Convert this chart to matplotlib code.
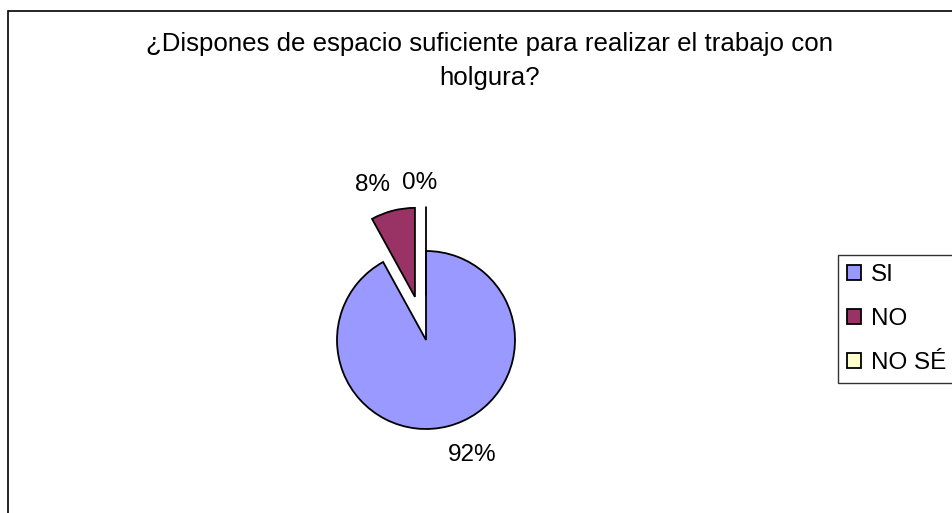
import matplotlib
matplotlib.use("Agg")
import matplotlib.pyplot as plt
from matplotlib.patches import Rectangle

plt.rcParams["font.family"] = ["Liberation Sans", "DejaVu Sans"]

# survey answers
categories = ["SI", "NO", "NO SÉ"]
values = [92, 8, 0]
colors = ["#9999FF", "#993366", "#FFFFCC"]
title = "¿Dispones de espacio suficiente para realizar el trabajo con\nholgura?"

W, H = 953, 513
fig = plt.figure(figsize=(W / 100, H / 100), dpi=100)

# outer chart border (right and bottom run off the picture)
fig.patches.append(Rectangle((8 / W, -0.05), 1.1, 1 - 11 / H + 0.05,
                             transform=fig.transFigure, fill=False,
                             edgecolor="black", linewidth=1.2))

fig.text(490 / W, 1 - 61 / H, title, ha="center", va="center",
         fontsize=18.6, linespacing=1.5)

# pie: centre at (426, 340) px, radius 89 px
r_px = 89
lim = 2.0
size = 2 * lim * r_px
cx, cy = 426, 340
ax = fig.add_axes([(cx - size / 2) / W, (H - cy - size / 2) / H, size / W, size / H])
wedges, texts, autotexts = ax.pie(
    values,
    colors=colors,
    startangle=90,
    counterclock=False,
    explode=[0, 0.5, 0.5],
    autopct="%1.0f%%",
    pctdistance=1.33,
    wedgeprops=dict(edgecolor="black", linewidth=1.3),
    textprops=dict(fontsize=17.5),
)
ax.set_xlim(-lim, lim)
ax.set_ylim(-lim, lim)
ax.set_aspect("equal")
ax.axis("off")

# small nudges so the percentage labels sit where Excel put them
nudges = [(0.19, 0.0), (-0.15, -0.03), (-0.07, -0.07)]
for txt, (dx, dy) in zip(autotexts, nudges):
    x, y = txt.get_position()
    txt.set_position((x + dx, y + dy))

leg = fig.legend(wedges, categories, loc="upper left",
                 bbox_to_anchor=(838 / W, 1 - 255 / H),
                 fontsize=17.5, frameon=True, fancybox=False,
                 edgecolor="black", handlelength=0.58, handleheight=0.58,
                 handletextpad=0.38, labelspacing=0.9, borderpad=0.38,
                 borderaxespad=0)
leg.get_frame().set_linewidth(1.0)

fig.savefig("out.png", dpi=100)
